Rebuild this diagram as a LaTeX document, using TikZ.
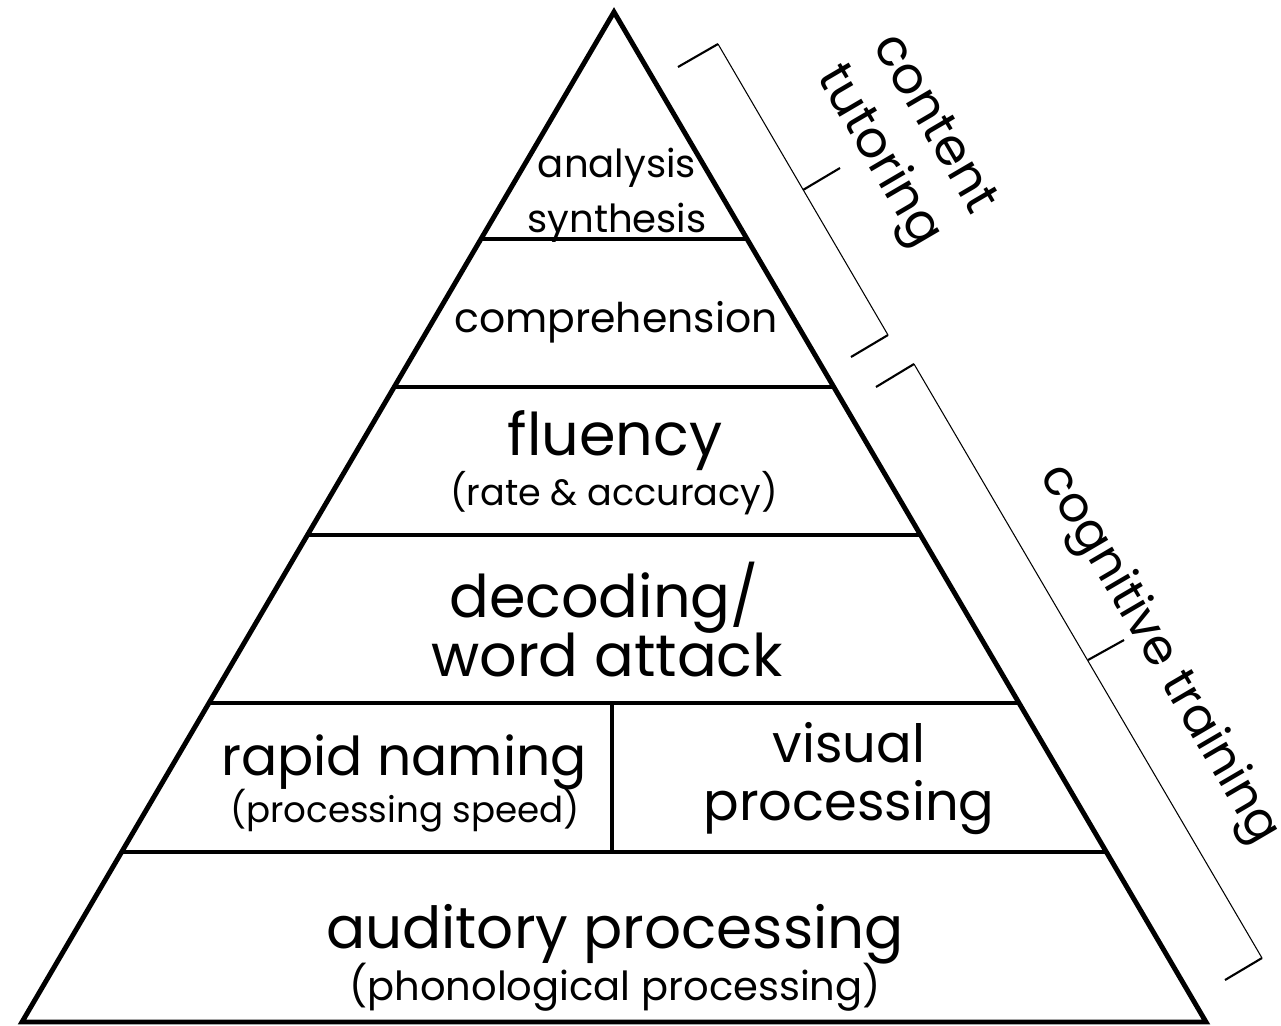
\documentclass[tikz,border=0pt]{standalone}
\usepackage{fontspec}
\setmainfont{Poppins}
\usetikzlibrary{calc}

\begin{document}
\begin{tikzpicture}[x=0.02cm, y=-0.02cm]
\tikzset{cadre/.style={line width=2.8pt, line join=miter},
  couche/.style={line width=2pt},
  accolade/.style={line width=0.6pt},
  cran/.style={line width=1.2pt},
  titre/.style={anchor=base, inner sep=0pt, font=\fontsize{33.5}{38}\selectfont},
  moyen/.style={anchor=base, inner sep=0pt, font=\fontsize{30.5}{34}\selectfont},
  haut/.style={anchor=base, inner sep=0pt, font=\fontsize{22}{26}\selectfont},
  detail/.style={anchor=base, inner sep=0pt, font=\fontsize{20.8}{24}\selectfont},
  cote/.style={anchor=base, inner sep=0pt, rotate=-59.64, font=\fontsize{29}{33}\selectfont}}
\useasboundingbox (0,0) rectangle (1281,1025);
% pyramide
\coordinate (S) at (614,12);
\coordinate (G) at (22,1022);
\coordinate (D) at (1206,1022);
\draw[cadre] (S) -- (G) -- (D) -- cycle;
% couches
\coordinate (L1) at ($(S)!0.2248!(G)$);
\coordinate (R1) at ($(S)!0.2248!(D)$);
\coordinate (L2) at ($(S)!0.3713!(G)$);
\coordinate (R2) at ($(S)!0.3713!(D)$);
\coordinate (L3) at ($(S)!0.5178!(G)$);
\coordinate (R3) at ($(S)!0.5178!(D)$);
\coordinate (L4) at ($(S)!0.6842!(G)$);
\coordinate (R4) at ($(S)!0.6842!(D)$);
\coordinate (L5) at ($(S)!0.8317!(G)$);
\coordinate (R5) at ($(S)!0.8317!(D)$);
\draw[couche] (L1) -- (R1);
\draw[couche] (L2) -- (R2);
\draw[couche] (L3) -- (R3);
\draw[couche] (L4) -- (R4);
\draw[couche] (L5) -- (R5);
\coordinate (M4) at (612,703);
\coordinate (M5) at (612,852);
\draw[couche] (M4) -- (M5);
% textes
\node[haut] (analyse) at (617,177) {analysis};
\node[haut] (synthese) at (617,232) {synthesis};
\node[haut, font=\fontsize{23.3}{27}\selectfont] (compr) at (616,332) {comprehension};
\node[titre] (fluid) at (615,455) {fluency};
\node[detail] (vitesse) at (614,505) {(rate \& accuracy)};
\node[titre] (decod) at (604,617) {decoding/};
\node[titre] (mots) at (607,676) {word attack};
\node[moyen] (rapide) at (404,775) {rapid naming};
\node[detail, font=\fontsize{20.3}{24}\selectfont] (traitement) at (405,822) {(processing speed)};
\node[moyen, font=\fontsize{30}{34}\selectfont] (visuel) at (849,762) {visual};
\node[moyen, font=\fontsize{30}{34}\selectfont] (visuel2) at (849,820) {processing};
\node[titre, font=\fontsize{33}{38}\selectfont] (audit) at (615,948) {auditory processing};
\node[detail, font=\fontsize{22.8}{26}\selectfont] (phono) at (615,1000) {(phonological processing)};
% accolades
\coordinate (A1) at (718,44);
\coordinate (A1t) at (678,67);
\coordinate (A2) at (888,335);
\coordinate (A2t) at (851,357);
\coordinate (Am) at (803,190);
\coordinate (Amt) at (840,168);
\draw[accolade] (A1) -- (A2);
\draw[cran] (A1) -- (A1t);
\draw[cran] (A2) -- (A2t);
\draw[cran] (Am) -- (Amt);
\coordinate (B1) at (914,364);
\coordinate (B1t) at (876,387);
\coordinate (B2) at (1262,958);
\coordinate (B2t) at (1225,980);
\coordinate (Bm) at (1088,660);
\coordinate (Bmt) at (1124,640);
\draw[accolade] (B1) -- (B2);
\draw[cran] (B1) -- (B1t);
\draw[cran] (B2) -- (B2t);
\draw[cran] (Bm) -- (Bmt);
\node[cote] (contenu) at (922,131) {content};
\node[cote] (tutorat) at (867,163) {tutoring};
\node[cote, font=\fontsize{28}{32}\selectfont] (cognitif) at (1148,661) {cognitive training};
\end{tikzpicture}
\end{document}
